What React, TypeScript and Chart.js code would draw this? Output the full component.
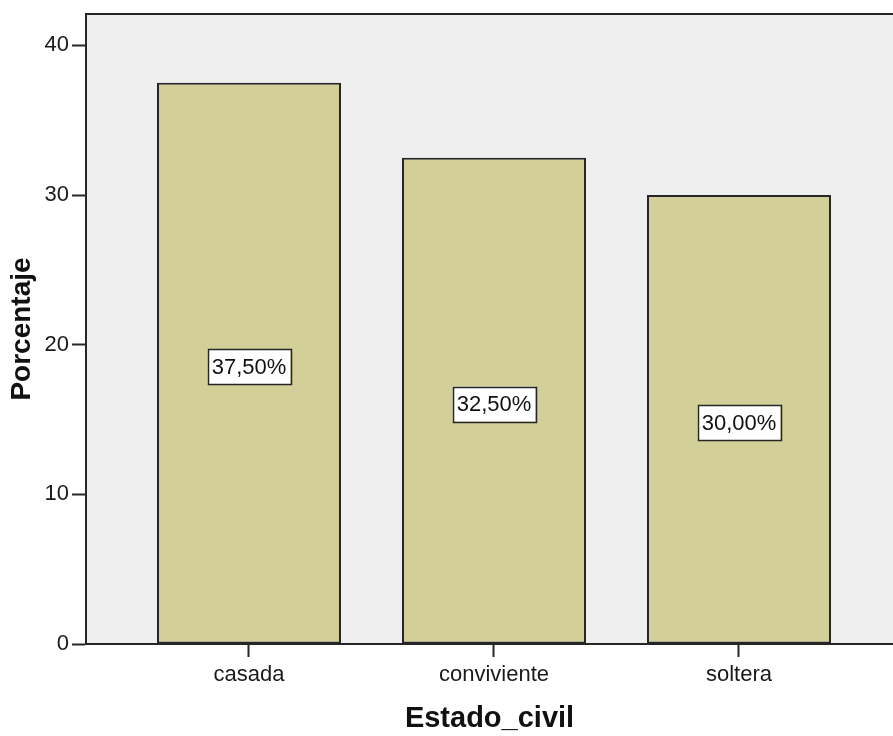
import React, { useEffect, useRef } from "react";
import { Chart, registerables } from "chart.js";

Chart.register(...registerables);

// Estado civil: porcentaje por categoría
const categories: string[] = ["casada", "conviviente", "soltera"];
const percentages: number[] = [37.5, 32.5, 30.0];
const yTicks: number[] = [0, 10, 20, 30, 40];

const FONT = 'Arial, "Liberation Sans", sans-serif';
const INK = "#262626";

const formatPct = (v: number) => v.toFixed(2).replace(".", ",") + "%";

// Fondo gris del área de trazado y línea superior del marco
const plotFrame = {
  id: "plotFrame",
  beforeDraw(chart: any) {
    const { ctx, chartArea } = chart;
    ctx.save();
    ctx.fillStyle = "#efefef";
    ctx.fillRect(chartArea.left, chartArea.top, chartArea.right - chartArea.left, chartArea.bottom - chartArea.top);
    ctx.restore();
  },
  afterDraw(chart: any) {
    const { ctx, chartArea } = chart;
    ctx.save();
    ctx.strokeStyle = INK;
    ctx.lineWidth = 2;
    ctx.beginPath();
    ctx.moveTo(chartArea.left - 1, chartArea.top);
    ctx.lineTo(chartArea.right, chartArea.top);
    ctx.stroke();
    ctx.restore();
  },
};

// Etiquetas con el valor de cada barra, en un recuadro blanco a media altura
const valueBoxes = {
  id: "valueBoxes",
  afterDatasetsDraw(chart: any) {
    const { ctx } = chart;
    const meta = chart.getDatasetMeta(0);
    ctx.save();
    ctx.font = `22px ${FONT}`;
    ctx.textAlign = "center";
    ctx.textBaseline = "middle";
    meta.data.forEach((bar: any, i: number) => {
      const text = formatPct(percentages[i]);
      const w = ctx.measureText(text).width + 8;
      const h = 35;
      const cx = bar.x;
      const cy = (bar.y + bar.base) / 2 + 3.5;
      ctx.fillStyle = "#ffffff";
      ctx.fillRect(cx - w / 2, cy - h / 2, w, h);
      ctx.strokeStyle = INK;
      ctx.lineWidth = 1.5;
      ctx.strokeRect(Math.round(cx - w / 2) + 0.5, Math.round(cy - h / 2) + 0.5, Math.round(w), h);
      ctx.fillStyle = "#111111";
      ctx.fillText(text, cx, cy + 1);
    });
    ctx.restore();
  },
};

export default function App() {
  const canvasRef = useRef<HTMLCanvasElement | null>(null);

  useEffect(() => {
    document.body.style.margin = "0";
    const canvas = canvasRef.current;
    if (!canvas) return;

    const chart = new Chart(canvas, {
      type: "bar",
      data: {
        datasets: [
          {
            label: "Porcentaje",
            data: percentages.map((y, i) => ({ x: i, y })),
            backgroundColor: "#d3cf98",
            borderColor: INK,
            borderWidth: 2,
            borderSkipped: false,
            barPercentage: 0.751,
            categoryPercentage: 1,
          },
        ],
      },
      options: {
        responsive: false,
        animation: false,
        events: [],
        layout: { padding: { top: 14, right: 0, bottom: 0, left: 0 } },
        plugins: {
          legend: { display: false },
          tooltip: { enabled: false },
          title: { display: false },
        },
        scales: {
          x: {
            type: "linear",
            offset: false,
            min: -0.6653,
            max: 2.6286,
            afterBuildTicks: (scale: any) => {
              scale.ticks = categories.map((_, i) => ({ value: i }));
            },
            afterFit: (scale: any) => {
              scale.height = 92;
            },
            border: { display: true, color: INK, width: 2 },
            grid: {
              offset: false,
              drawOnChartArea: false,
              drawTicks: true,
              tickLength: 13,
              tickWidth: 2,
              tickColor: INK,
            },
            ticks: {
              autoSkip: false,
              maxRotation: 0,
              padding: 5,
              color: "#1a1a1a",
              font: { family: FONT, size: 22 },
              callback: (value: any) => categories[Math.round(Number(value))] ?? "",
            },
            title: {
              display: true,
              text: "Estado_civil",
              color: "#111111",
              font: { family: FONT, size: 29, weight: "bold" },
              padding: { top: 0, bottom: 0 },
            },
          },
          y: {
            type: "linear",
            min: 0,
            max: 42.1,
            afterBuildTicks: (scale: any) => {
              scale.ticks = yTicks.map((v) => ({ value: v }));
            },
            afterFit: (scale: any) => {
              scale.width = 86;
            },
            border: { display: true, color: INK, width: 2 },
            grid: {
              drawOnChartArea: false,
              drawTicks: true,
              tickLength: 14,
              tickWidth: 2,
              tickColor: INK,
            },
            ticks: {
              padding: 3,
              color: "#1a1a1a",
              font: { family: FONT, size: 22, lineHeight: 1 },
              includeBounds: false,
            },
            title: {
              display: true,
              text: "Porcentaje",
              color: "#111111",
              font: { family: FONT, size: 28, weight: "bold" },
              padding: { top: 5, bottom: 0 },
            },
          },
        },
      },
      plugins: [plotFrame, valueBoxes],
    });

    return () => chart.destroy();
  }, []);

  return (
    <div style={{ width: 893, height: 736, background: "#ffffff" }}>
      <canvas ref={canvasRef} width={893} height={736} style={{ display: "block" }} />
    </div>
  );
}
